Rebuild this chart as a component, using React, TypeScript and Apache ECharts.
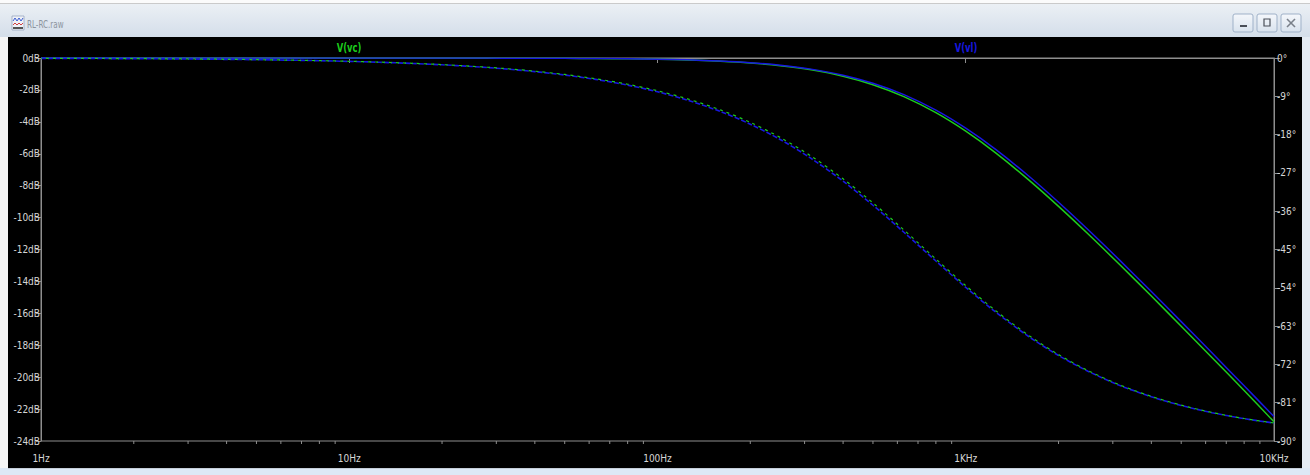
import React, { useEffect, useRef } from "react";
import * as echarts from "echarts";

// Frequencies (Hz) of the sampled points (10 per decade)
const freqs = [
  1, 1.25, 1.6, 2, 2.5, 3.15, 4, 5, 6.3, 8,
  10, 12.5, 16, 20, 25, 31.5, 40, 50, 63, 80,
  100, 125, 160, 200, 250, 315, 400, 500, 630, 800,
  1000, 1250, 1600, 2000, 2500, 3150, 4000, 5000, 6300, 8000,
  10000,
];

// Magnitudes (dB), left axis
const vcMag = [
  0, 0, 0, 0, 0, 0, 0, 0, 0, 0,
  0, 0, 0, -0.003, -0.005, -0.008, -0.013, -0.02, -0.032, -0.052,
  -0.081, -0.126, -0.204, -0.314, -0.482, -0.741, -1.14, -1.671, -2.418, -3.426,
  -4.588, -5.946, -7.637, -9.297, -11.047, -12.927, -14.917, -16.806, -18.778, -20.831,
  -22.8,
];
const vlMag = [
  0, 0, 0, 0, 0, 0, 0, 0, 0, 0,
  0, 0, 0, -0.003, -0.005, -0.008, -0.012, -0.019, -0.03, -0.049,
  -0.076, -0.117, -0.191, -0.294, -0.452, -0.697, -1.075, -1.58, -2.296, -3.269,
  -4.4, -5.73, -7.396, -9.04, -10.779, -12.65, -14.634, -16.518, -18.49, -20.541,
  -22.47,
];

// Phases (degrees), right axis
const vcPhase = [
  -0.08, -0.1, -0.12, -0.15, -0.19, -0.24, -0.31, -0.39, -0.49, -0.62,
  -0.77, -0.97, -1.24, -1.55, -1.94, -2.44, -3.09, -3.87, -4.87, -6.17,
  -7.7, -9.59, -12.2, -15.12, -18.67, -23.06, -28.39, -34.05, -40.41, -47.23,
  -53.5, -59.37, -65.18, -69.7, -73.51, -76.78, -79.52, -81.58, -83.3, -84.72,
  -85.77,
];
const vlPhase = [
  -0.08, -0.1, -0.13, -0.16, -0.2, -0.25, -0.32, -0.4, -0.5, -0.64,
  -0.8, -1.0, -1.28, -1.6, -2.0, -2.52, -3.2, -4.0, -5.03, -6.38,
  -7.95, -9.9, -12.58, -15.55, -19.15, -23.6, -28.95, -34.6, -40.95, -47.7,
  -53.9, -59.7, -65.45, -69.9, -73.65, -76.9, -79.6, -81.65, -83.35, -84.75,
  -85.77,
];

// Axis tick labels
const decades = [1, 10, 100, 1000, 10000];
const xLabels = ["1Hz", "10Hz", "100Hz", "1KHz", "10KHz"];
const minorSteps = [2, 3, 4, 5, 6, 7, 8, 9];
const seriesNames = ["V(vc)", "V(vl)"];

const AXIS = "#8e8e8e";
const LABEL = "#d6d6d6";
const FONT = "'DejaVu Sans Condensed', 'Liberation Sans', sans-serif";
const GREEN = "#1ccc1c";
const BLUE = "#1818e0";

export default function App() {
  const ref = useRef<HTMLDivElement>(null);

  useEffect(() => {
    if (!ref.current) return;
    const chart = echarts.init(ref.current, null, { renderer: "svg" });

    const minorTicks: number[][] = [];
    decades.slice(0, -1).forEach((d) => minorSteps.forEach((m) => minorTicks.push([d * m, -24])));

    const xFormatter = (v: number) => {
      const i = decades.findIndex((d) => Math.abs(d - v) / d < 1e-6);
      return i >= 0 ? xLabels[i] : "";
    };

    const button = (x: number, glyph: any[]) => ({
      type: "group",
      x,
      y: 14,
      children: [
        {
          type: "rect",
          shape: { x: 0, y: 0, width: 20, height: 18, r: 2 },
          style: {
            fill: new echarts.graphic.LinearGradient(0, 0, 0, 1, [
              { offset: 0, color: "#f4f7fb" },
              { offset: 1, color: "#d9e3ee" },
            ]),
            stroke: "#9fb1c8",
            lineWidth: 1,
          },
        },
        ...glyph,
      ],
    });

    const lineSeries = (name: string, axis: number, values: number[], lineStyle: any, z: number) => ({
      name,
      type: "line",
      yAxisIndex: axis,
      data: freqs.map((f, i) => [f, values[i]]),
      showSymbol: false,
      smooth: 0.3,
      lineStyle,
      silent: true,
      z,
    });

    chart.setOption({
      animation: false,
      backgroundColor: "#000",
      grid: {
        left: 41,
        right: 36,
        top: 58,
        bottom: 34,
        show: true,
        borderColor: AXIS,
        borderWidth: 1,
        backgroundColor: "transparent",
      },
      xAxis: {
        type: "log",
        logBase: 10,
        min: 1,
        max: 10000,
        splitNumber: 4,
        axisLine: { show: true, lineStyle: { color: AXIS } },
        axisTick: { show: true, inside: false, length: 5, lineStyle: { color: AXIS } },
        splitLine: { show: false },
        minorTick: { show: false },
        axisLabel: {
          color: LABEL,
          fontFamily: FONT,
          fontSize: 10,
          margin: 12,
          formatter: xFormatter,
        },
      },
      yAxis: [
        {
          type: "value",
          min: -24,
          max: 0,
          interval: 2,
          position: "left",
          axisLine: { show: true, lineStyle: { color: AXIS } },
          axisTick: { show: true, inside: false, length: 5, lineStyle: { color: AXIS } },
          splitLine: { show: false },
          axisLabel: {
            color: LABEL,
            fontFamily: FONT,
            fontSize: 10,
            margin: 1,
            formatter: (v: number) => `${v}dB`,
          },
        },
        {
          type: "value",
          min: -90,
          max: 0,
          interval: 9,
          position: "right",
          axisLine: { show: true, lineStyle: { color: AXIS } },
          axisTick: { show: true, inside: false, length: 6, lineStyle: { color: AXIS } },
          splitLine: { show: false },
          axisLabel: {
            color: LABEL,
            fontFamily: FONT,
            fontSize: 10,
            margin: 3,
            formatter: (v: number) => `${v}°`,
          },
        },
      ],
      series: [
        lineSeries(seriesNames[0], 0, vcMag, { color: GREEN, width: 1.5 }, 2),
        lineSeries(seriesNames[1], 0, vlMag, { color: BLUE, width: 1.5 }, 3),
        lineSeries(seriesNames[1] + " phase", 1, vlPhase, { color: BLUE, width: 1.6, type: [5, 2] }, 2),
        lineSeries(seriesNames[0] + " phase", 1, vcPhase, { color: GREEN, width: 1.2, type: [3, 4], dashOffset: 2 }, 3),
        {
          type: "custom",
          yAxisIndex: 0,
          data: minorTicks,
          clip: false,
          silent: true,
          renderItem: (_p: any, api: any) => {
            const pt = api.coord([api.value(0), api.value(1)]);
            return {
              type: "line",
              shape: { x1: pt[0], y1: pt[1], x2: pt[0], y2: pt[1] + 3 },
              style: { stroke: AXIS, lineWidth: 1 },
            };
          },
          z: 4,
        },
      ],
      graphic: [
        // window chrome
        {
          type: "rect",
          shape: { x: 0, y: 0, width: 1310, height: 37 },
          style: {
            fill: new echarts.graphic.LinearGradient(0, 0, 0, 1, [
              { offset: 0, color: "#eef2f6" },
              { offset: 1, color: "#d4deea" },
            ]),
          },
          silent: true,
        },
        { type: "rect", shape: { x: 0, y: 0, width: 1310, height: 3 }, style: { fill: "#fbfbfb" }, silent: true },
        { type: "rect", shape: { x: 0, y: 3, width: 1310, height: 1 }, style: { fill: "#cacaca" }, silent: true },
        { type: "rect", shape: { x: 0, y: 37, width: 8, height: 431 }, style: { fill: "#f6f6f6" }, silent: true },
        { type: "rect", shape: { x: 1302, y: 37, width: 8, height: 431 }, style: { fill: "#e4ebf3" }, silent: true },
        { type: "rect", shape: { x: 0, y: 468, width: 1310, height: 7 }, style: { fill: "#dde9f6" }, silent: true },
        { type: "rect", shape: { x: 8, y: 468, width: 1294, height: 1 }, style: { fill: "#c4cdd8" }, silent: true },
        // icon
        {
          type: "group",
          x: 12,
          y: 16,
          silent: true,
          children: [
            { type: "rect", shape: { x: 0, y: 0, width: 12, height: 14 }, style: { fill: "#eef1f7", stroke: "#8090b0", lineWidth: 0.6 } },
            { type: "polyline", shape: { points: [[1, 5], [3, 2], [5, 5], [7, 2], [9, 5], [11, 2]] }, style: { stroke: "#3a5bd0", lineWidth: 1, fill: "none" } },
            { type: "polyline", shape: { points: [[1, 9], [3, 7], [5, 9], [7, 7], [9, 9], [11, 7]] }, style: { stroke: "#d04040", lineWidth: 1, fill: "none" } },
            { type: "rect", shape: { x: 1, y: 11, width: 10, height: 2 }, style: { fill: "#555" } },
          ],
        },
        {
          type: "text",
          x: 27,
          y: 25,
          scaleX: 0.8,
          silent: true,
          style: { text: "RL-RC.raw", fill: "#8c949e", font: "10px 'DejaVu Sans Condensed', sans-serif", textVerticalAlign: "middle" },
        },
        // window buttons
        button(1233, [{ type: "rect", shape: { x: 7, y: 11, width: 7, height: 2 }, style: { fill: "#4a4f58" } }]),
        button(1257, [{ type: "rect", shape: { x: 7, y: 5, width: 6, height: 7 }, style: { fill: "none", stroke: "#4a4f58", lineWidth: 1.2 } }]),
        button(1281, [
          { type: "line", shape: { x1: 6, y1: 5, x2: 14, y2: 13 }, style: { stroke: "#7a808a", lineWidth: 1.6 } },
          { type: "line", shape: { x1: 14, y1: 5, x2: 6, y2: 13 }, style: { stroke: "#7a808a", lineWidth: 1.6 } },
        ]),
        // trace labels
        {
          type: "text",
          x: 349,
          y: 47,
          scaleX: 0.72,
          silent: true,
          style: { text: seriesNames[0], fill: GREEN, font: "bold 13px 'DejaVu Sans Condensed', sans-serif", textAlign: "center", textVerticalAlign: "middle" },
        },
        {
          type: "text",
          x: 966,
          y: 47,
          scaleX: 0.72,
          silent: true,
          style: { text: seriesNames[1], fill: BLUE, font: "bold 13px 'DejaVu Sans Condensed', sans-serif", textAlign: "center", textVerticalAlign: "middle" },
        },
      ],
    });

    return () => chart.dispose();
  }, []);

  return (
    <div
      ref={ref}
      style={{ position: "absolute", left: 0, top: 0, width: 1310, height: 475 }}
    />
  );
}
